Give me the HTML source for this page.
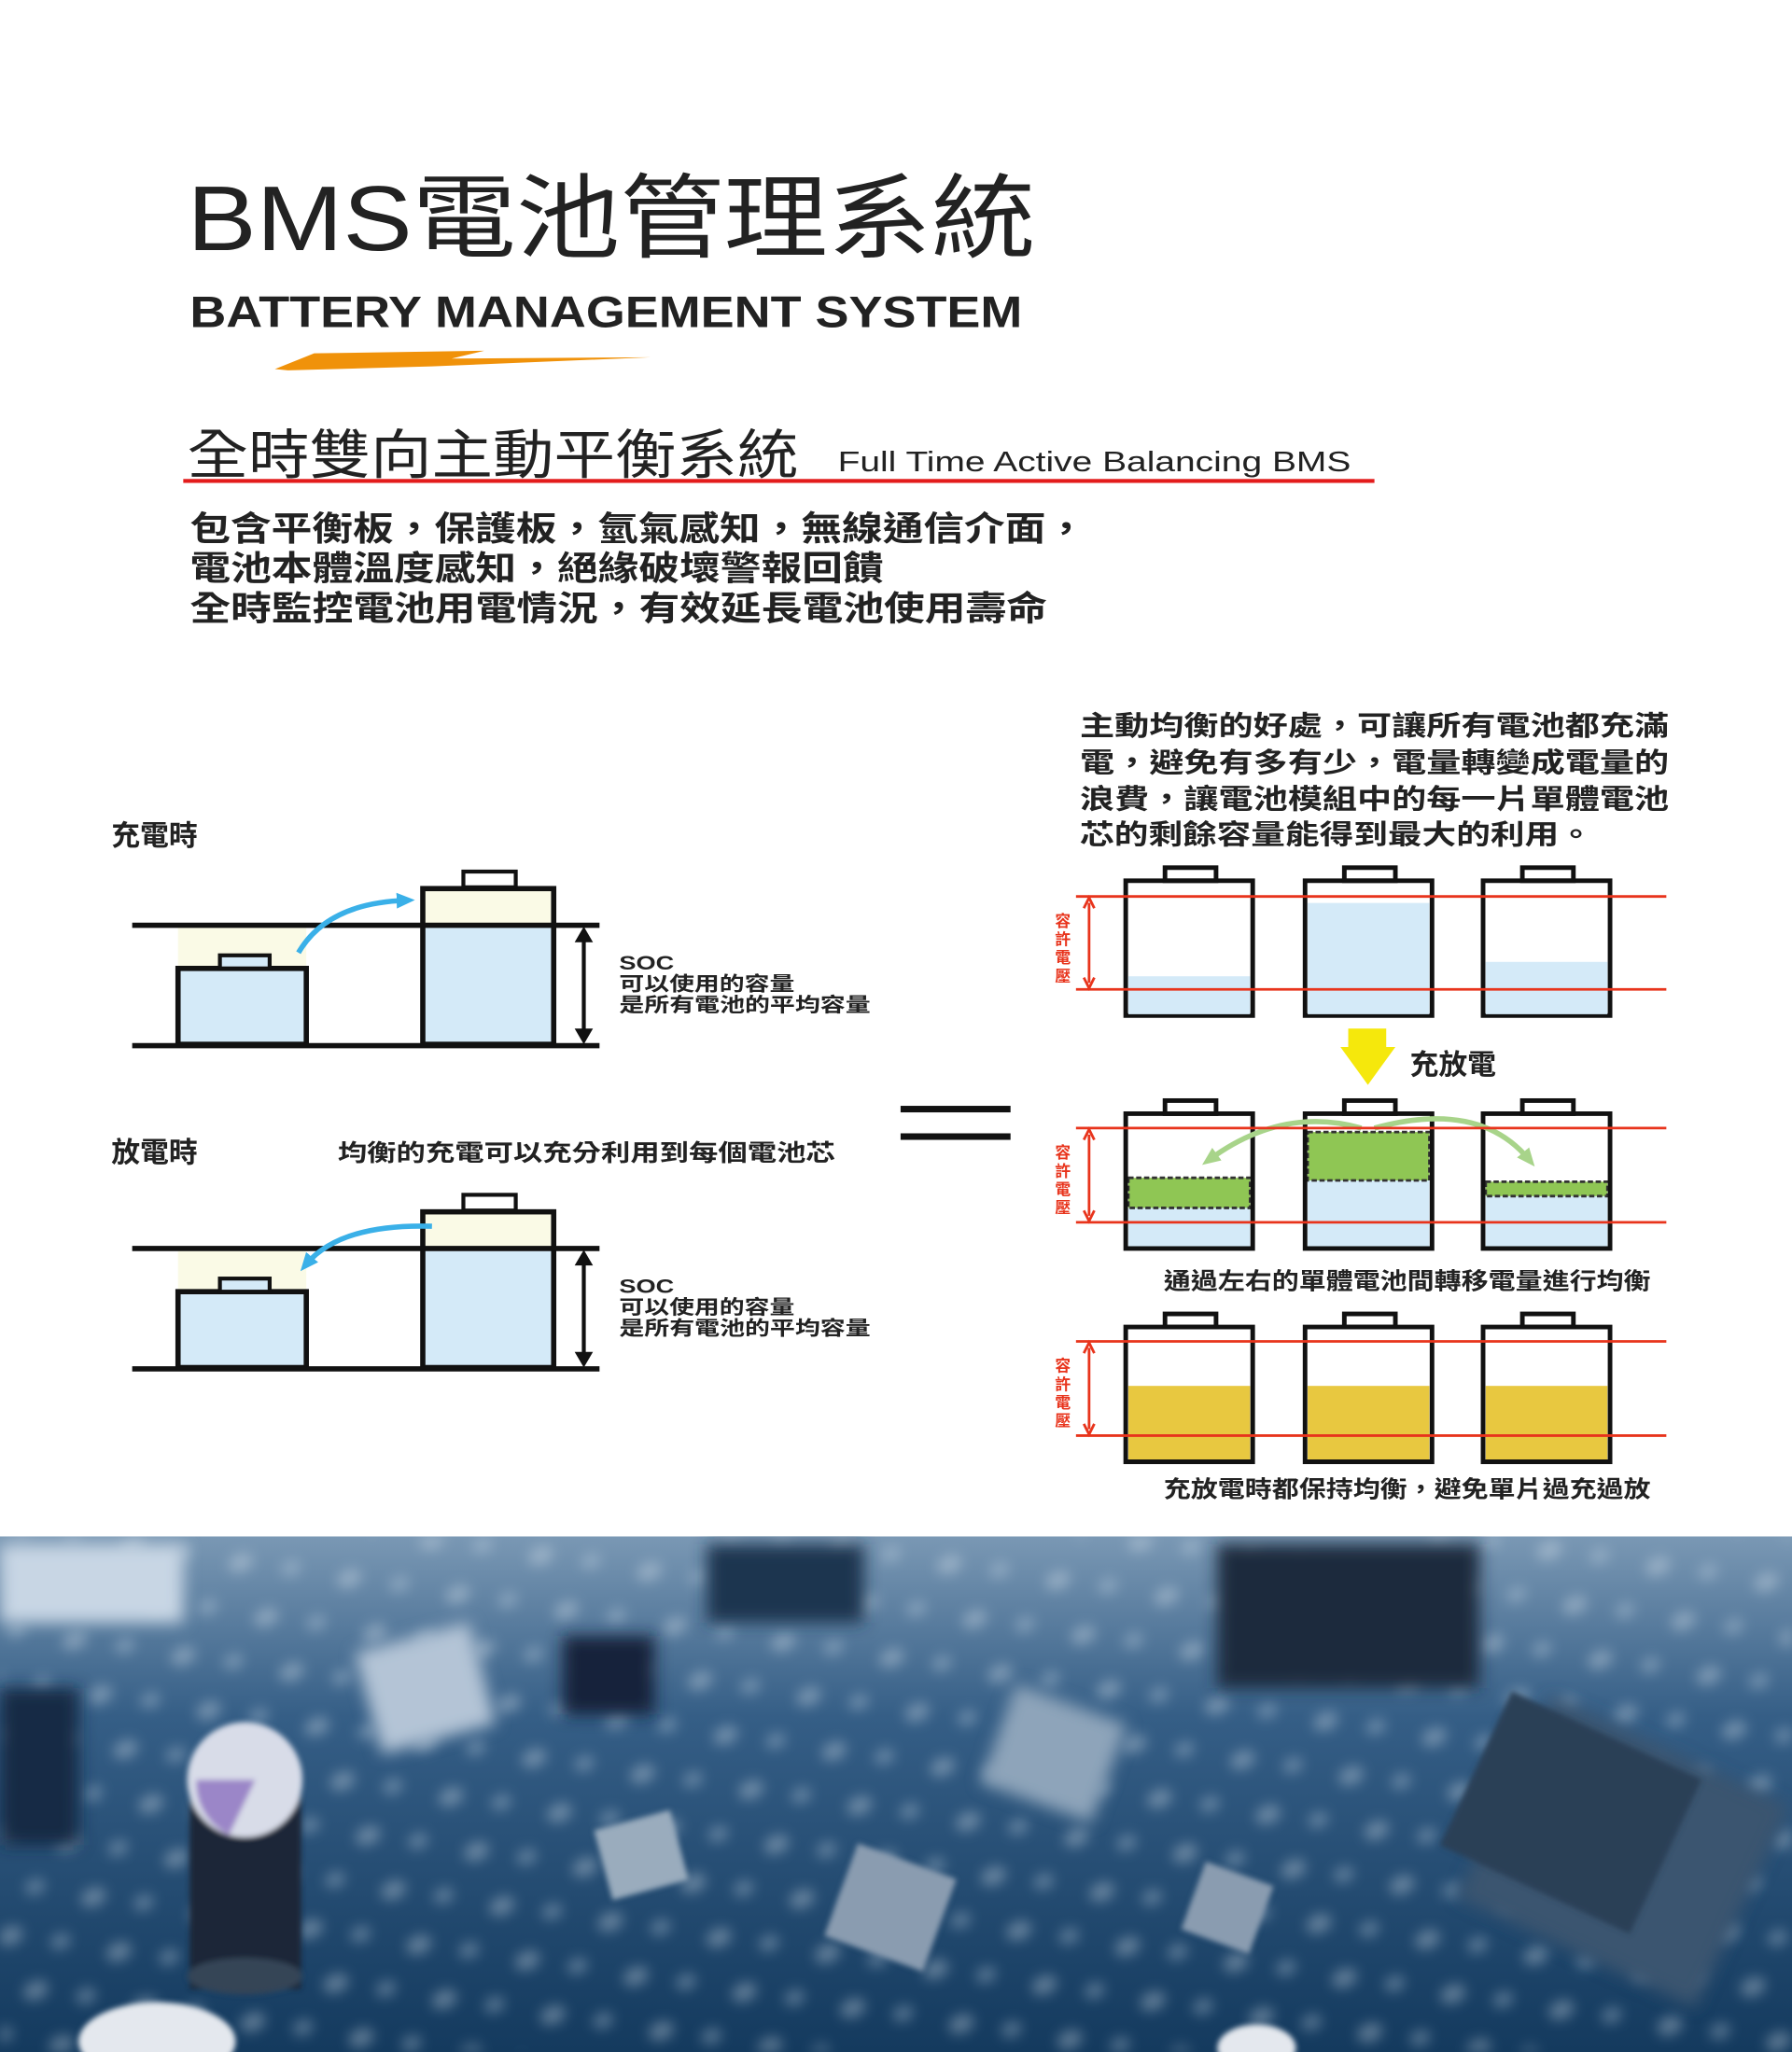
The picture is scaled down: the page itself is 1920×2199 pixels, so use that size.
<!DOCTYPE html>
<html><head><meta charset="utf-8"><style>
html,body{margin:0;padding:0;background:#fff;}
svg{display:block;}
text{font-family:"Liberation Sans","Noto Sans CJK TC",sans-serif;}
</style></head><body>
<svg width="1920" height="2199" viewBox="0 0 1369 1568" preserveAspectRatio="none" xmlns="http://www.w3.org/2000/svg">
<defs>
<marker id="ab" markerWidth="14" markerHeight="14" refX="7" refY="7" orient="auto" markerUnits="userSpaceOnUse"><path d="M0,1 L14,7 L0,13 z" fill="#3ab0e8"/></marker>
<marker id="ag" markerWidth="14" markerHeight="14" refX="7" refY="7" orient="auto" markerUnits="userSpaceOnUse"><path d="M0,1 L14,7 L0,13 z" fill="#a8d48a"/></marker>
<linearGradient id="pcb" x1="0" y1="0" x2="0" y2="1"><stop offset="0" stop-color="#7a98b4"/><stop offset="0.35" stop-color="#355e86"/><stop offset="1" stop-color="#143a5e"/></linearGradient>
<filter id="bl"><feGaussianBlur stdDeviation="6"/></filter>
<filter id="bl3"><feGaussianBlur stdDeviation="5"/></filter>
<filter id="bl2"><feGaussianBlur stdDeviation="2"/></filter>
<clipPath id="pc"><rect x="0" y="1174" width="1369" height="394"/></clipPath>
<pattern id="dots" width="70" height="46" patternUnits="userSpaceOnUse" patternTransform="rotate(-25)">
<ellipse cx="12" cy="10" rx="10" ry="7" fill="#dfe8f0"/><ellipse cx="45" cy="30" rx="8" ry="6" fill="#c8d8e6"/>
</pattern>
</defs>

<!-- Header -->
<text x="143" y="191" font-size="70" fill="#222" textLength="648" lengthAdjust="spacingAndGlyphs">BMS電池管理系統</text>
<text x="145" y="250" font-size="34" font-weight="bold" fill="#222" textLength="636" lengthAdjust="spacingAndGlyphs">BATTERY MANAGEMENT SYSTEM</text>
<polygon points="210,282 240,270 370,268 345,274 497,273 330,280 220,283" fill="#f0920a"/>

<text x="143" y="362" font-size="41" fill="#222" textLength="467" lengthAdjust="spacingAndGlyphs">全時雙向主動平衡系統</text>
<text x="640" y="360" font-size="22" fill="#222" textLength="392" lengthAdjust="spacingAndGlyphs">Full Time Active Balancing BMS</text>
<rect x="140" y="366" width="910" height="3" fill="#e31b1b"/>

<g font-size="26" font-weight="bold" fill="#222">
<text x="145" y="413" textLength="685" lengthAdjust="spacingAndGlyphs">包含平衡板，保護板，氫氣感知，無線通信介面，</text>
<text x="145" y="443" textLength="530" lengthAdjust="spacingAndGlyphs">電池本體溫度感知，絕緣破壞警報回饋</text>
<text x="145" y="474" textLength="655" lengthAdjust="spacingAndGlyphs">全時監控電池用電情況，有效延長電池使用壽命</text>
</g>

<g font-size="21" font-weight="bold" fill="#222">
<text x="825" y="562" textLength="450" lengthAdjust="spacingAndGlyphs">主動均衡的好處，可讓所有電池都充滿</text>
<text x="825" y="590" textLength="450" lengthAdjust="spacingAndGlyphs">電，避免有多有少，電量轉變成電量的</text>
<text x="825" y="618" textLength="450" lengthAdjust="spacingAndGlyphs">浪費，讓電池模組中的每一片單體電池</text>
<text x="825" y="645" textLength="392" lengthAdjust="spacingAndGlyphs">芯的剩餘容量能得到最大的利用。</text>
</g>

<!-- Left diagrams -->
<text x="85" y="646" font-size="22" font-weight="bold" fill="#222">充電時</text>
<text x="85" y="888" font-size="22" font-weight="bold" fill="#222">放電時</text>
<text x="258" y="887" font-size="18" font-weight="bold" fill="#222" textLength="380" lengthAdjust="spacingAndGlyphs">均衡的充電可以充分利用到每個電池芯</text>

<g id="L1">
<rect x="136" y="709" width="98" height="30" fill="#fafae6"/>
<rect x="136" y="740" width="98" height="57" fill="#d4eaf8"/>
<rect x="136" y="740" width="98" height="58" fill="none" stroke="#111" stroke-width="4"/>
<rect x="168" y="730" width="38" height="10" fill="#d4eaf8" stroke="#111" stroke-width="3"/>
<rect x="323" y="679" width="99" height="28" fill="#fafae6"/>
<rect x="323" y="708" width="99" height="90" fill="#d4eaf8"/>
<rect x="323" y="679" width="100" height="119" fill="none" stroke="#111" stroke-width="4"/>
<rect x="354" y="666" width="40" height="12" fill="#fff" stroke="#111" stroke-width="3"/>
<line x1="101" y1="707" x2="458" y2="707" stroke="#111" stroke-width="4"/>
<line x1="101" y1="799" x2="458" y2="799" stroke="#111" stroke-width="4"/>
<line x1="446" y1="714" x2="446" y2="792" stroke="#111" stroke-width="3"/>
<path d="M439,720 L446,708 L453,720 z M439,786 L446,798 L453,786 z" fill="#111"/>
<g font-size="15" font-weight="bold" fill="#222"><text x="473" y="741" textLength="42" lengthAdjust="spacingAndGlyphs">SOC</text><text x="473" y="757" textLength="134" lengthAdjust="spacingAndGlyphs">可以使用的容量</text><text x="473" y="773" textLength="192" lengthAdjust="spacingAndGlyphs">是所有電池的平均容量</text></g>
</g>
<path d="M228,728 Q250,690 310,688" fill="none" stroke="#3ab0e8" stroke-width="4" marker-end="url(#ab)"/>
<use href="#L1" y="247"/>
<path d="M330,937 Q260,935 234,966" fill="none" stroke="#3ab0e8" stroke-width="4" marker-end="url(#ab)"/>

<!-- equals -->
<rect x="688" y="845" width="84" height="5" fill="#111"/>
<rect x="688" y="866" width="84" height="5" fill="#111"/>

<!-- Right row 1 -->
<g stroke="#111" stroke-width="3.5" fill="none">
<path d="M860,776 V673 H957 V776 Z"/><rect x="890" y="663" width="39" height="10"/>
<path d="M997,776 V673 H1094 V776 Z"/><rect x="1027" y="663" width="39" height="10"/>
<path d="M1133,776 V673 H1230 V776 Z"/><rect x="1163" y="663" width="39" height="10"/>
</g>
<rect x="862" y="746" width="93" height="29" fill="#d4eaf8"/>
<rect x="999" y="690" width="93" height="85" fill="#d4eaf8"/>
<rect x="1135" y="735" width="93" height="40" fill="#d4eaf8"/>
<g stroke="#e8341c" stroke-width="2"><line x1="822" y1="685" x2="1273" y2="685"/><line x1="822" y1="756" x2="1273" y2="756"/><line x1="832" y1="690" x2="832" y2="751"/></g>
<path d="M828,694 L832,686 L836,694 M828,747 L832,755 L836,747" stroke="#e8341c" stroke-width="2" fill="none"/>
<g font-size="12" font-weight="bold" fill="#e8341c" text-anchor="middle"><text x="812" y="708">容</text><text x="812" y="722">許</text><text x="812" y="736">電</text><text x="812" y="750">壓</text></g>

<polygon points="1030,786 1059,786 1059,800 1066,800 1045,829 1024,800 1030,800" fill="#f5e80c"/>
<text x="1077" y="821" font-size="22" font-weight="bold" fill="#222">充放電</text>

<!-- Row 2 -->
<rect x="862" y="923" width="93" height="30" fill="#d4eaf8"/>
<rect x="999" y="902" width="93" height="51" fill="#d4eaf8"/>
<rect x="1135" y="914" width="93" height="39" fill="#d4eaf8"/>
<rect x="862" y="900" width="93" height="23" fill="#8fc654" stroke="#333" stroke-width="2" stroke-dasharray="4,2"/>
<rect x="999" y="865" width="93" height="37" fill="#8fc654" stroke="#333" stroke-width="2" stroke-dasharray="4,2"/>
<rect x="1135" y="903" width="93" height="11" fill="#8fc654" stroke="#333" stroke-width="2" stroke-dasharray="4,2"/>
<g stroke="#111" stroke-width="3.5" fill="none">
<path d="M860,954 V851 H957 V954 Z"/><rect x="890" y="841" width="39" height="10"/>
<path d="M997,954 V851 H1094 V954 Z"/><rect x="1027" y="841" width="39" height="10"/>
<path d="M1133,954 V851 H1230 V954 Z"/><rect x="1163" y="841" width="39" height="10"/>
</g>
<path d="M1040,862 Q980,845 924,886" fill="none" stroke="#a8d48a" stroke-width="4" marker-end="url(#ag)"/>
<path d="M1050,862 Q1130,840 1168,886" fill="none" stroke="#a8d48a" stroke-width="4" marker-end="url(#ag)"/>
<g stroke="#e8341c" stroke-width="2"><line x1="822" y1="862" x2="1273" y2="862"/><line x1="822" y1="934" x2="1273" y2="934"/><line x1="832" y1="867" x2="832" y2="929"/></g>
<path d="M828,871 L832,863 L836,871 M828,925 L832,933 L836,925" stroke="#e8341c" stroke-width="2" fill="none"/>
<g font-size="12" font-weight="bold" fill="#e8341c" text-anchor="middle"><text x="812" y="885">容</text><text x="812" y="899">許</text><text x="812" y="913">電</text><text x="812" y="927">壓</text></g>
<text x="889" y="985" font-size="18" font-weight="bold" fill="#222" textLength="372" lengthAdjust="spacingAndGlyphs">通過左右的單體電池間轉移電量進行均衡</text>

<!-- Row 3 -->
<rect x="862" y="1059" width="93" height="57" fill="#e8c840"/>
<rect x="999" y="1059" width="93" height="57" fill="#e8c840"/>
<rect x="1135" y="1059" width="93" height="57" fill="#e8c840"/>
<g stroke="#111" stroke-width="3.5" fill="none">
<path d="M860,1117 V1014 H957 V1117 Z"/><rect x="890" y="1004" width="39" height="10"/>
<path d="M997,1117 V1014 H1094 V1117 Z"/><rect x="1027" y="1004" width="39" height="10"/>
<path d="M1133,1117 V1014 H1230 V1117 Z"/><rect x="1163" y="1004" width="39" height="10"/>
</g>
<g stroke="#e8341c" stroke-width="2"><line x1="822" y1="1025" x2="1273" y2="1025"/><line x1="822" y1="1097" x2="1273" y2="1097"/><line x1="832" y1="1030" x2="832" y2="1092"/></g>
<path d="M828,1034 L832,1026 L836,1034 M828,1088 L832,1096 L836,1088" stroke="#e8341c" stroke-width="2" fill="none"/>
<g font-size="12" font-weight="bold" fill="#e8341c" text-anchor="middle"><text x="812" y="1048">容</text><text x="812" y="1062">許</text><text x="812" y="1076">電</text><text x="812" y="1090">壓</text></g>
<text x="889" y="1144" font-size="18" font-weight="bold" fill="#222" textLength="372" lengthAdjust="spacingAndGlyphs">充放電時都保持均衡，避免單片過充過放</text>

<!-- PCB photo -->
<g clip-path="url(#pc)">
<rect x="0" y="1174" width="1369" height="394" fill="url(#pcb)"/>
<g filter="url(#bl3)" opacity="0.35">
<rect x="0" y="1174" width="1369" height="394" fill="url(#dots)"/>
</g>
<g filter="url(#bl)">
<rect x="0" y="1180" width="140" height="60" fill="#c8d6e4"/>
<rect x="280" y="1250" width="90" height="80" fill="#b4c4d6" transform="rotate(-15 325 1290)"/>
<rect x="930" y="1180" width="200" height="110" fill="#1a2a3c"/>
<rect x="1140" y="1330" width="200" height="170" fill="#3a5470" transform="rotate(25 1240 1415)"/>
<rect x="760" y="1300" width="90" height="80" fill="#8ea4ba" transform="rotate(20 805 1340)"/>
<rect x="430" y="1250" width="70" height="60" fill="#12223a"/>
<rect x="0" y="1290" width="60" height="120" fill="#142a44"/>
<rect x="540" y="1180" width="120" height="60" fill="#1c3450"/>
</g>
<g filter="url(#bl2)">
<rect x="145" y="1360" width="85" height="160" fill="#1a2838"/>
<ellipse cx="187" cy="1360" rx="44" ry="44" fill="#d8dce8"/>
<path d="M150,1360 A44,44 0 0,0 175,1402 L195,1360 Z" fill="#9b86c8"/>
<ellipse cx="187" cy="1510" rx="44" ry="14" fill="#344456"/>
<rect x="460" y="1390" width="60" height="55" fill="#9aacbd" transform="rotate(-15 490 1418)"/>
<rect x="640" y="1420" width="80" height="75" fill="#8a9cb0" transform="rotate(20 680 1458)"/>
<rect x="910" y="1430" width="55" height="55" fill="#8a9cb0" transform="rotate(20 937 1458)"/>
<rect x="1120" y="1320" width="160" height="130" fill="#2a3f56" transform="rotate(25 1200 1385)"/>
<ellipse cx="120" cy="1560" rx="60" ry="30" fill="#e4e8ee"/>
<ellipse cx="960" cy="1565" rx="30" ry="18" fill="#e4e8ee"/>
</g>
</g>
</svg>
</body></html>
